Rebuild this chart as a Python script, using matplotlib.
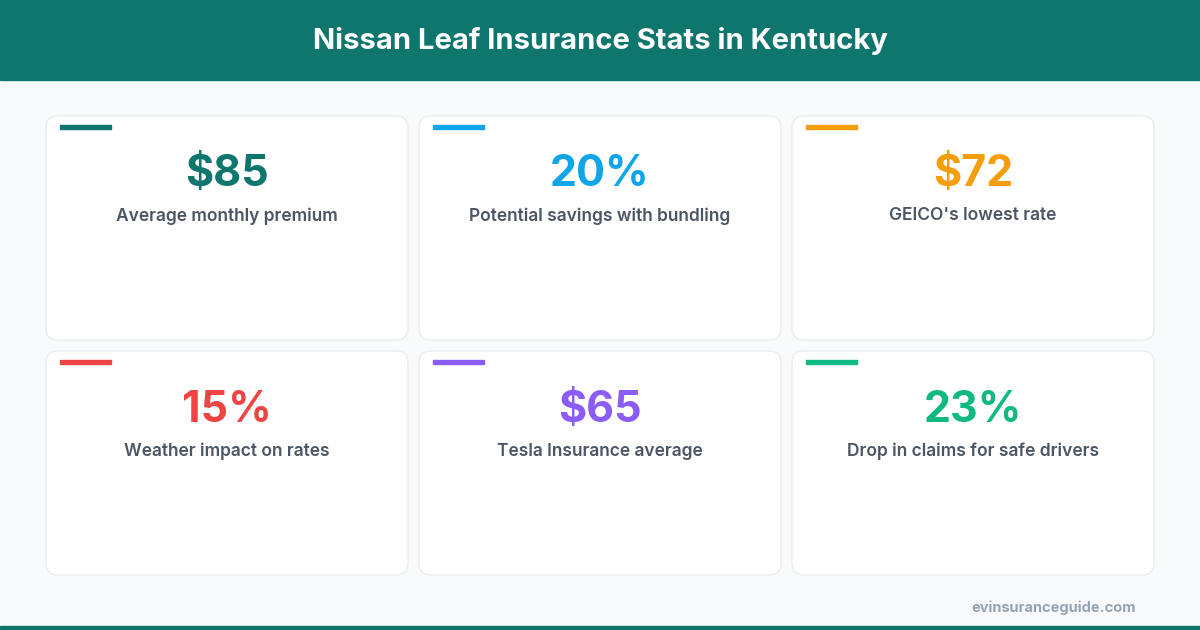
import matplotlib.pyplot as plt
from matplotlib.patches import FancyBboxPatch, Rectangle

# donnees des cartes
valeurs = ["$85", "20%", "$72", "15%", "$65", "23%"]
libelles = ["Average monthly premium", "Potential savings with bundling", "GEICO's lowest rate",
            "Weather impact on rates", "Tesla Insurance average", "Drop in claims for safe drivers"]
couleurs = ["#0f766e", "#0ea5e9", "#f59e0b", "#ef4444", "#8b5cf6", "#10b981"]
titre = "Nissan Leaf Insurance Stats in Kentucky"
source = "evinsuranceguide.com"

plt.rcParams['font.family'] = ['Inter', 'DejaVu Sans']

fig = plt.figure(figsize=(12, 6.3), dpi=100)
ax = fig.add_axes([0, 0, 1, 1])
ax.set_xlim(0, 1200)
ax.set_ylim(630, 0)
ax.axis('off')
fig.patch.set_facecolor('#f8fafc')

# bandeau du haut
ax.add_patch(Rectangle((0, 0), 1200, 80, color='#0f766e', zorder=1))
ax.text(600, 41, titre, color='white', fontsize=21, fontweight='bold', ha='center', va='center')

# bande du bas
ax.add_patch(Rectangle((0, 626), 1200, 4, color='#0f766e', zorder=1))
ax.text(1136, 608, source, color='#94a3b8', fontsize=10.5, fontweight='bold', ha='right', va='center')

# grille 3x2
x0 = [46, 419, 792]
y0 = [116, 351]
w, h = 362, 224
for i in range(len(valeurs)):
    x = x0[i % 3]
    y = y0[i // 3]
    carte = FancyBboxPatch((x, y), w, h, boxstyle="round,pad=0,rounding_size=12",
                           facecolor='white', edgecolor='#e8ebef', linewidth=0.9, zorder=2)
    ax.add_patch(carte)
    ax.add_patch(Rectangle((x + 14, y + 9), 51, 4, color=couleurs[i], zorder=3))
    ax.text(x + w / 2, y + 59, valeurs[i], color=couleurs[i], fontsize=31, fontweight='bold',
            ha='center', va='center', zorder=4)
    ax.text(x + w / 2, y + 100, libelles[i], color='#4b5563', fontsize=12.5, fontweight='semibold',
            ha='center', va='center', zorder=4)

fig.savefig('out.png', dpi=100, facecolor=fig.get_facecolor())
